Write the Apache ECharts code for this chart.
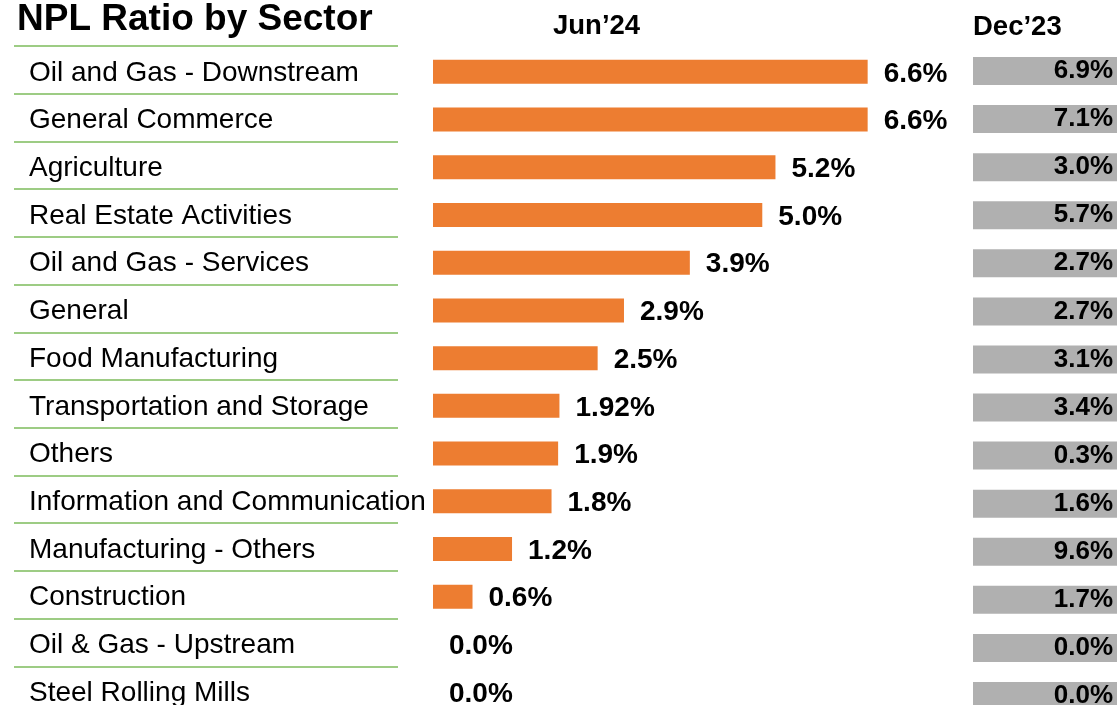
<!DOCTYPE html>
<html>
<head>
<meta charset="utf-8">
<title>NPL Ratio by Sector</title>
<script src="https://cdn.jsdelivr.net/npm/echarts@6/dist/echarts.min.js"></script>
<style>
  html, body { margin: 0; padding: 0; background: #ffffff; overflow: hidden; }
  #chart { width: 1117px; height: 730px; }
</style>
</head>
<body>
<div id="chart"></div>
<script>
// Sectors, top to bottom
const categories = [
  'Oil and Gas - Downstream',
  'General Commerce',
  'Agriculture',
  'Real Estate Activities',
  'Oil and Gas - Services',
  'General',
  'Food Manufacturing',
  'Transportation and Storage',
  'Others',
  'Information and Communication',
  'Manufacturing - Others',
  'Construction',
  'Oil & Gas - Upstream',
  'Steel Rolling Mills'
];

// NPL ratio (%) at Jun'24
const jun24 = [6.6, 6.6, 5.2, 5.0, 3.9, 2.9, 2.5, 1.92, 1.9, 1.8, 1.2, 0.6, 0.0, 0.0];

// NPL ratio (%) at Dec'23
const dec23 = [6.9, 7.1, 3.0, 5.7, 2.7, 2.7, 3.1, 3.4, 0.3, 1.6, 9.6, 1.7, 0.0, 0.0];

const periodTitles = ['Jun\u201924', 'Dec\u201923'];

const FONT = '"Liberation Sans", Arial, Helvetica, sans-serif';

// one decimal unless the value carries a second one (e.g. 1.92)
function pct(v) {
  const one = Math.round(v * 10) / 10;
  return (Math.abs(one - v) < 1e-9 ? v.toFixed(1) : v.toFixed(2)) + '%';
}

const chart = echarts.init(document.getElementById('chart'), null, { renderer: 'canvas' });

const option = {
  backgroundColor: '#ffffff',
  animation: false,
  title: [
    {
      text: 'NPL Ratio by Sector',
      left: 17, top: 1, padding: 0,
      textStyle: { fontFamily: FONT, fontSize: 37, fontWeight: 'bold', color: '#000' }
    },
    {
      text: periodTitles[0],
      left: 553, top: 12, padding: 0,
      textStyle: { fontFamily: FONT, fontSize: 27.5, fontWeight: 'bold', color: '#000' }
    },
    {
      text: periodTitles[1],
      left: 973, top: 13, padding: 0,
      textStyle: { fontFamily: FONT, fontSize: 27.5, fontWeight: 'bold', color: '#000' }
    }
  ],
  grid: [
    // sector name column with green separators
    { left: 14, width: 384, top: 46, height: 668, containLabel: false },
    // Jun'24 bars
    { left: 433, width: 461, top: 48, height: 668, containLabel: false },
    // Dec'23 value boxes
    { left: 973, width: 160, top: 47, height: 673, containLabel: false }
  ],
  xAxis: [
    { gridIndex: 0, type: 'value', show: false, min: 0, max: 1 },
    { gridIndex: 1, type: 'value', show: false, min: 0, max: 7 },
    { gridIndex: 2, type: 'value', show: false, min: 0, max: 1 }
  ],
  yAxis: [
    {
      gridIndex: 0,
      type: 'category',
      data: categories,
      inverse: true,
      axisLine: { show: false },
      axisTick: { show: false },
      axisLabel: {
        inside: true,
        margin: 15,
        interval: 0,
        formatter: function (value) { return '{t|' + value + '}'; },
        rich: {
          t: {
            padding: [6, 0, 0, 0],
            fontFamily: FONT,
            fontSize: 28,
            color: '#000'
          }
        }
      },
      splitLine: {
        show: true,
        interval: 0,
        lineStyle: { color: '#7dbb5b', width: 1.5 }
      }
    },
    {
      gridIndex: 1,
      type: 'category',
      data: categories,
      inverse: true,
      show: false
    },
    {
      gridIndex: 2,
      type: 'category',
      data: categories,
      inverse: true,
      axisLine: { show: false },
      axisTick: { show: false },
      splitLine: { show: false },
      axisLabel: {
        inside: true,
        margin: 0,
        interval: 0,
        formatter: function (value, index) {
          return '{box|' + pct(dec23[index]) + '}';
        },
        rich: {
          box: {
            backgroundColor: '#b0b0b0',
            width: 140,
            height: 28,
            lineHeight: 28,
            align: 'right',
            padding: [0, 4, 0, 0],
            fontFamily: FONT,
            fontSize: 26,
            fontWeight: 'bold',
            color: '#000'
          }
        }
      }
    }
  ],
  series: [
    {
      name: periodTitles[0],
      type: 'bar',
      xAxisIndex: 1,
      yAxisIndex: 1,
      data: jun24,
      barWidth: 24,
      itemStyle: { color: '#ed7d31' },
      label: {
        show: true,
        position: 'right',
        distance: 16,
        offset: [0, 2],
        formatter: function (p) { return pct(p.value); },
        fontFamily: FONT,
        fontSize: 28,
        fontWeight: 'bold',
        color: '#000'
      }
    }
  ]
};

chart.setOption(option);
</script>
</body>
</html>
